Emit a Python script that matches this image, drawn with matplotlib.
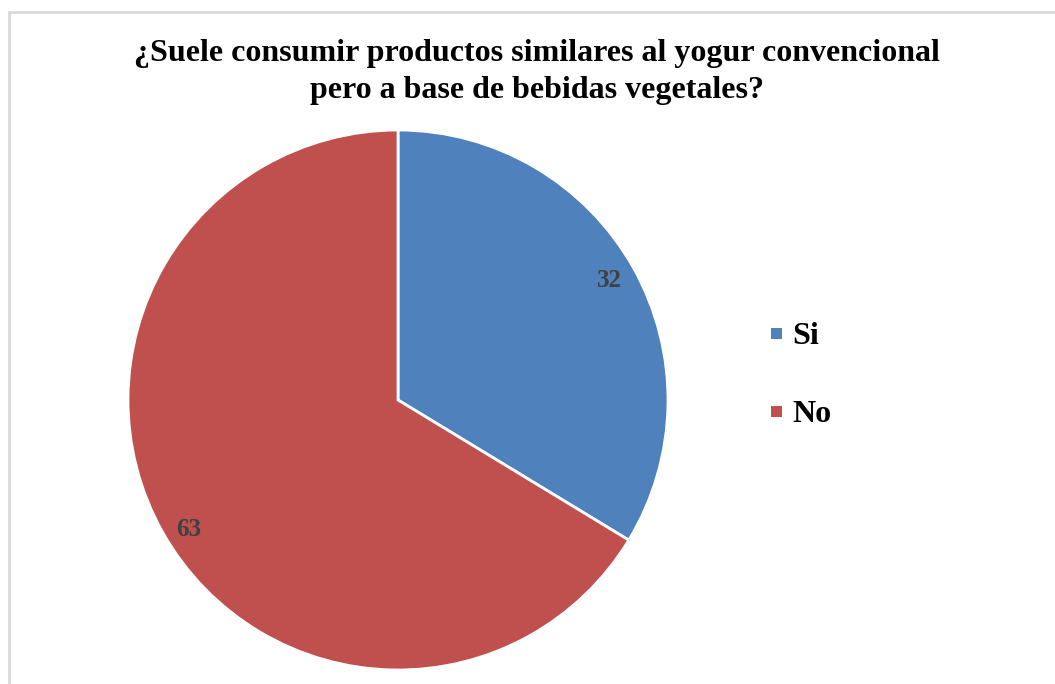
import matplotlib
matplotlib.use('Agg')
import matplotlib.pyplot as plt
from matplotlib.patches import Rectangle

matplotlib.rcParams['font.family'] = 'Liberation Serif'
matplotlib.rcParams['font.weight'] = 'bold'

title = '¿Suele consumir productos similares al yogur convencional\npero a base de bebidas vegetales?'
categories = ['Si', 'No']
values = [32, 63]
colors = ['#4F81BD', '#C0504D']

W, H = 1055, 684
fig = plt.figure(figsize=(W / 100, H / 100), dpi=100)

# gray frame around the chart area
fig.patches.append(Rectangle((9 / W, -0.05), 1.1, (H - 12) / H + 0.05, transform=fig.transFigure,
                             fill=False, edgecolor='#D9D9D9', linewidth=2))

# pie axes: centre (398, 400) px, radius 270 px
ax = fig.add_axes([128 / W, 14 / H, 540 / W, 540 / H])
wedges, texts, autotexts = ax.pie(values, colors=colors, startangle=90, counterclock=False,
                                  autopct=lambda p: '%d' % round(p * sum(values) / 100),
                                  pctdistance=0.9, radius=1,
                                  wedgeprops=dict(edgecolor='white', linewidth=2))
for t in autotexts:
    t.set_color('#404040')
    t.set_fontsize(18)
    t.set_fontweight('bold')
# nudge the second label down a little, like the original
x, y = autotexts[1].get_position()
autotexts[1].set_position((x + 0.01, y - 0.04))
ax.set_xlim(-1, 1)
ax.set_ylim(-1, 1)
ax.set_aspect('equal')
ax.axis('off')

fig.text(537 / W, 1 - 72 / H, title, ha='center', va='center', fontsize=23,
         fontweight='bold', linespacing=1.38)

# legend
legend_y = [333, 411]
for cat, col, y in zip(categories, colors, legend_y):
    fig.patches.append(Rectangle((771 / W, 1 - (y + 6) / H), 11 / W, 11 / H,
                                 transform=fig.transFigure, facecolor=col, edgecolor='none'))
    fig.text(792 / W, 1 - (y + 3) / H, cat, ha='left', va='center', fontsize=23, fontweight='bold')

plt.savefig('out.png', dpi=100)
